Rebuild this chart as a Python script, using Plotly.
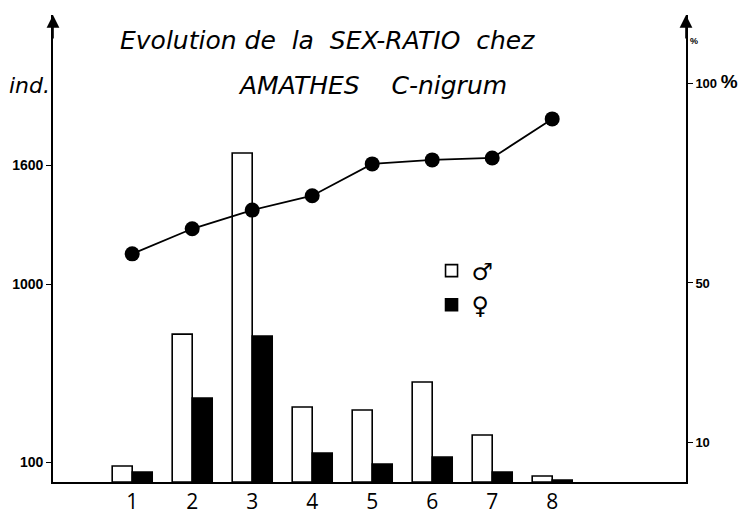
import plotly.graph_objects as go

# ---- data ----
groups = [1, 2, 3, 4, 5, 6, 7, 8]
group_labels = ["1", "2", "3", "4", "5", "6", "7", "8"]
males = [81, 747, 1662, 379, 364, 505, 237, 30]
females = [50, 424, 737, 146, 91, 126, 50, 10]
sex_ratio_pct = [57.3, 63.6, 68.3, 71.9, 79.9, 80.9, 81.4, 91.2]

left_ticks = [100, 1000, 1600]
right_ticks = [10, 50, 100]
right_ticktext = ["10", "50", "100 <span style='font-size:19px'>%</span>"]

TXT = "DejaVu Sans"
NUM = "Liberation Sans"

fig = go.Figure()
fig.add_trace(go.Bar(
    x=groups, y=males, name="\u2642",
    marker=dict(color="white", line=dict(color="black", width=1.6)),
))
fig.add_trace(go.Bar(
    x=groups, y=females, name="\u2640",
    marker=dict(color="black", line=dict(color="black", width=1.6)),
))
fig.add_trace(go.Scatter(
    x=groups, y=sex_ratio_pct, yaxis="y2", mode="lines+markers",
    line=dict(color="black", width=1.8),
    marker=dict(color="black", size=15),
    showlegend=False,
))

# the page body adds an 8px margin, so the figure is sized to fit the 755x516 window
fig.update_layout(
    width=747, height=508,
    margin=dict(l=45, r=69, t=7, b=34, autoexpand=False),
    paper_bgcolor="white", plot_bgcolor="white",
    barmode="group", bargap=0.333, bargroupgap=0,
    font=dict(family=TXT, color="black"),
    showlegend=True,
    legend=dict(
        x=0.598, y=0.50, xanchor="left", yanchor="top",
        font=dict(family="DejaVu Sans", size=24, color="black"),
        bgcolor="rgba(0,0,0,0)", itemwidth=30, tracegroupgap=4,
    ),
    xaxis=dict(
        range=[-0.32, 10.23], tickmode="array", tickvals=groups, ticktext=group_labels,
        showline=True, linecolor="black", linewidth=1.6, showgrid=False, zeroline=False,
        ticks="", automargin=False, color="black",
        tickfont=dict(family="Open Sans", size=21, color="black"),
    ),
    yaxis=dict(
        range=[0, 2358.6], tickmode="array", tickvals=left_ticks,
        showline=True, linecolor="black", linewidth=1.6, showgrid=False, zeroline=False,
        ticks="outside", ticklen=5, tickcolor="black", tickwidth=1.2,
        automargin=False, color="black",
        tickfont=dict(family=NUM, size=14, color="black", weight="bold"),
    ),
    yaxis2=dict(
        range=[0, 117.3], overlaying="y", side="right", tickmode="array",
        tickvals=right_ticks, ticktext=right_ticktext,
        showline=True, linecolor="black", linewidth=1.6, showgrid=False, zeroline=False,
        ticks="outside", ticklen=5, tickcolor="black", tickwidth=1.2,
        automargin=False, color="black",
        tickfont=dict(family=NUM, size=13, color="black", weight="bold"),
    ),
)

# axis arrowheads
for xx in (0, 1):
    fig.add_annotation(x=xx, y=1.0, xref="paper", yref="paper", ax=0, ay=25,
                       text="", showarrow=True, arrowhead=2, arrowsize=1.6,
                       arrowwidth=1.6, arrowcolor="black")

fig.add_annotation(x=0.434, y=0.946, xref="paper", yref="paper", showarrow=False,
                   xanchor="center", yanchor="middle",
                   text="<i>Evolution de\u00a0 la\u00a0 SEX-RATIO\u00a0 chez</i>",
                   font=dict(family=TXT, size=25, color="black"))
fig.add_annotation(x=0.504, y=0.85, xref="paper", yref="paper", showarrow=False,
                   xanchor="center", yanchor="middle",
                   text="<i>AMATHES\u00a0\u00a0\u00a0 C-nigrum</i>",
                   font=dict(family=TXT, size=25, color="black"))
fig.add_annotation(x=-0.037, y=0.85, xref="paper", yref="paper", showarrow=False,
                   xanchor="center", yanchor="middle",
                   text="<i>ind.</i>", font=dict(family=TXT, size=22, color="black"))
fig.add_annotation(x=1.012, y=0.945, xref="paper", yref="paper", showarrow=False,
                   xanchor="center", yanchor="middle",
                   text="%", font=dict(family=NUM, size=9, color="black", weight="bold"))

fig.write_html("out.html")
